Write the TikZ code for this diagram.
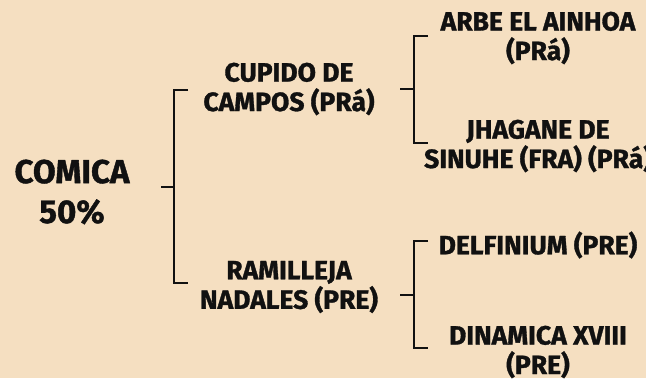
\documentclass[tikz,border=0pt]{standalone}
\usepackage{fontspec}
\setmainfont{Fira Sans}[BoldFeatures={FakeBold=1.2}]
\definecolor{fondo}{HTML}{F5DFC1}
\definecolor{tinta}{HTML}{111111}

\begin{document}
\begin{tikzpicture}[x=1pt,y=-1pt,
    raiz/.style={font=\bfseries\fontsize{33}{40}\selectfont,align=center,text=tinta,inner sep=0pt},
    rama/.style={font=\bfseries\fontsize{26.5}{29.5}\selectfont,align=center,text=tinta,inner sep=0pt},
    llave/.style={line width=2.6pt,draw=tinta}]
    \fill[fondo] (0,0) rectangle (646,378);
    \useasboundingbox (0,0) rectangle (646,378);
    % textos
    \node[raiz] (comica) at (72,192) {COMICA\\50\%};
    \node[rama] (cupido) at (289,89) {CUPIDO DE\\CAMPOS (PRá)};
    \node[rama] (ramilleja) at (289,287) {RAMILLEJA\\NADALES (PRE)};
    \node[rama] (arbe) at (538,38) {ARBE EL AINHOA\\(PRá)};
    \node[rama] (jhagane) at (538,146) {JHAGANE DE\\SINUHE (FRA) (PRá)};
    \node[rama] (delfinium) at (538,245) {DELFINIUM (PRE)};
    \node[rama] (dinamica) at (538,352) {DINAMICA XVIII\\(PRE)};
    % llaves
    \coordinate (c0) at (161,187);
    \coordinate (c) at (174,187);
    \coordinate (c1) at (188,90);
    \coordinate (c2) at (188,283);
    \coordinate (s0) at (400,89);
    \coordinate (s) at (414,89);
    \coordinate (s1) at (428,36);
    \coordinate (s2) at (428,143);
    \coordinate (i0) at (400,295);
    \coordinate (i) at (414,295);
    \coordinate (i1) at (428,241);
    \coordinate (i2) at (428,348);
    \draw[llave] (c0) -- (c);
    \draw[llave] (c1) -| (c) |- (c2);
    \draw[llave] (s0) -- (s);
    \draw[llave] (s1) -| (s) |- (s2);
    \draw[llave] (i0) -- (i);
    \draw[llave] (i1) -| (i) |- (i2);
\end{tikzpicture}
\end{document}
